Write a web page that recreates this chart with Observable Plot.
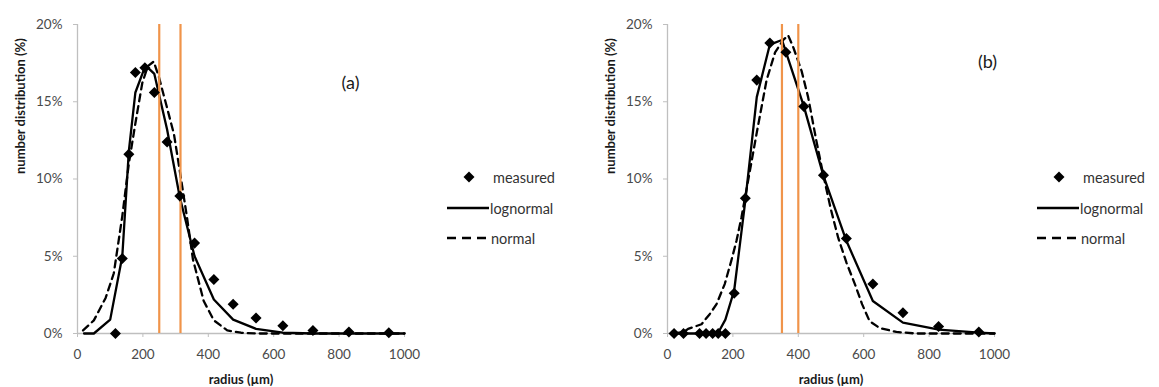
<!DOCTYPE html>
<html>
<head>
<meta charset="utf-8">
<script src="https://cdn.jsdelivr.net/npm/d3@7"></script>
<script src="https://cdn.jsdelivr.net/npm/@observablehq/plot@0.6"></script>
<style>
  html, body { margin: 0; padding: 0; background: #fff; }
  #chart { position: relative; width: 1159px; height: 387px; background: #fff; font-family: Lato, "Open Sans", sans-serif; }
  .panel { position: absolute; top: 0; width: 580px; height: 387px; }
  .panel svg.plot { position: absolute; left: 0; top: 0; }
  .legend { position: absolute; left: 440px; top: 160px; width: 140px; height: 100px; }
  .legend .item { position: absolute; left: 0; height: 20px; display: flex; align-items: center; font-size: 14.5px; color: #333; }
  .legend svg { display: block; }
</style>
</head>
<body>
<div id="chart"></div>
<script>
// ---- shared axis definitions ----
const xTicks = [0, 200, 400, 600, 800, 1000];
const yTicks = [0, 5, 10, 15, 20];
const xLabel = "radius (µm)";
const yLabel = "number distribution (%)";
const seriesNames = ["measured", "lognormal", "normal"];

// ---- panel (a) ----
const measuredA_r = [116, 137, 157, 177, 206, 235, 274, 313, 358, 417, 476, 546, 628, 720, 830, 952];
const measuredA_v = [0, 4.85, 11.6, 16.9, 17.2, 15.6, 12.4, 8.9, 5.85, 3.5, 1.9, 1.0, 0.5, 0.2, 0.1, 0.05];
const lognormalA_r = [20, 50, 100, 137, 157, 177, 208, 235, 274, 313, 358, 417, 476, 546, 628, 720, 830, 952, 1000];
const lognormalA_v = [0, 0, 0.9, 5.0, 11.8, 15.6, 17.35, 16.8, 13.2, 8.8, 5.0, 2.2, 0.9, 0.3, 0.05, 0, 0, 0, 0];
const normalA_r = [17, 50, 86, 111, 137, 157, 177, 198, 215, 233, 249, 274, 295, 313, 335, 353, 386, 417, 458, 500, 546, 628, 720, 830, 952, 1000];
const normalA_v = [0.2, 0.85, 2.3, 3.9, 7.6, 11.0, 13.6, 16.2, 17.3, 17.6, 16.6, 14.6, 12.9, 10.5, 7.5, 4.8, 2.1, 0.85, 0.2, 0.05, 0, 0, 0, 0, 0, 0];
const markersA = [250, 315];
const tagA = "(a)";

// ---- panel (b) ----
const measuredB_r = [20, 49, 98, 118, 138, 155, 177, 204, 238, 273, 313, 362, 417, 477, 547, 628, 720, 829, 952];
const measuredB_v = [0, 0, 0, 0, 0, 0, 0, 2.6, 8.75, 16.4, 18.8, 18.2, 14.7, 10.25, 6.15, 3.2, 1.35, 0.45, 0.1];
const lognormalB_r = [20, 50, 100, 120, 138, 155, 177, 204, 238, 273, 313, 350, 417, 477, 547, 628, 720, 830, 952, 1000];
const lognormalB_v = [0, 0, 0, 0, 0, 0.05, 0.9, 2.8, 8.6, 15.3, 18.7, 19.0, 14.7, 10.2, 6.0, 2.1, 0.7, 0.25, 0.05, 0];
const normalB_r = [20, 50, 63, 104, 129, 150, 175, 195, 211, 226, 250, 273, 303, 329, 354, 369, 385, 410, 430, 455, 476, 500, 522, 547, 573, 595, 618, 649, 700, 760, 830, 952, 1000];
const normalB_v = [0, 0.1, 0.3, 0.6, 1.25, 1.9, 3.2, 4.7, 6.0, 7.5, 10.3, 13.0, 16.4, 18.2, 19.0, 19.3, 18.5, 17.0, 15.3, 12.5, 10.3, 8.0, 6.2, 4.6, 3.2, 1.9, 0.8, 0.35, 0.1, 0, 0, 0, 0];
const markersB = [350, 400];
const tagB = "(b)";

const zip = (rs, vs) => rs.map((r, i) => ({r, v: vs[i]}));

const diamond = {
  draw(ctx, size) {
    const h = Math.sqrt(size / 2);
    ctx.moveTo(0, -h); ctx.lineTo(h, 0); ctx.lineTo(0, h); ctx.lineTo(-h, 0); ctx.closePath();
  }
};

function makePanel(measured, lognormal, normal, markers, tag, tagDx, tagDy) {
  return Plot.plot({
    width: 420,
    height: 387,
    marginLeft: 77,
    marginRight: 16,
    marginTop: 24,
    marginBottom: 54,
    x: {domain: [0, 1000]},
    y: {domain: [0, 20]},
    style: {fontFamily: "Lato, 'Open Sans', sans-serif", background: "transparent", overflow: "visible"},
    marks: [
      Plot.ruleY([0], {stroke: "#bfbfbf", strokeWidth: 1.3}),
      Plot.ruleX([0], {stroke: "#bfbfbf", strokeWidth: 1.3}),
      Plot.axisX({ticks: xTicks, tickFormat: d => String(d), tickSize: 4, tickPadding: 12, stroke: "#bfbfbf", fill: "#4a4a4a", fontSize: 13.5, label: null}),
      Plot.axisY({ticks: yTicks, tickFormat: d => d + "%", tickSize: 4, tickPadding: 11, stroke: "#bfbfbf", fill: "#4a4a4a", fontSize: 13.5, label: null}),
      Plot.text([yLabel], {text: d => d, frameAnchor: "left", dx: -57, dy: -5, rotate: -90, fontWeight: "bold", fontSize: 13, fill: "#1a1a1a"}),
      Plot.text([xLabel], {text: d => d, frameAnchor: "bottom", lineAnchor: "middle", dy: 46, fontWeight: "bold", fontSize: 13, fill: "#1a1a1a"}),
      Plot.text([tag], {text: d => d, frameAnchor: "top-right", textAnchor: "middle", lineAnchor: "middle", dx: tagDx, dy: tagDy, fontSize: 18, fill: "#1a1a1a"}),
      Plot.line(normal, {x: "r", y: "v", stroke: "#000", strokeWidth: 2.3, strokeDasharray: "7,5"}),
      Plot.line(lognormal, {x: "r", y: "v", stroke: "#000", strokeWidth: 2.3}),
      Plot.ruleX(markers, {y1: 0, y2: 20, stroke: "#f0944a", strokeWidth: 2.2}),
      Plot.dot(measured, {x: "r", y: "v", symbol: diamond, r: 4.4, fill: "#000", stroke: "none"})
    ]
  });
}

function makeLegend() {
  const lg = document.createElement("div");
  lg.className = "legend";
  const items = [
    {name: seriesNames[0], top: 7, sw: `<svg width="50" height="20"><path d="M29,4.5 L34.5,10 L29,15.5 L23.5,10 Z" fill="#000"/></svg>`, pad: 3},
    {name: seriesNames[1], top: 38, sw: `<svg width="50" height="20"><line x1="7" y1="10" x2="49" y2="10" stroke="#000" stroke-width="2.3"/></svg>`, pad: 0},
    {name: seriesNames[2], top: 68, sw: `<svg width="50" height="20"><line x1="7" y1="10" x2="49" y2="10" stroke="#000" stroke-width="2.3" stroke-dasharray="9,6"/></svg>`, pad: 1}
  ];
  for (const it of items) {
    const d = document.createElement("div");
    d.className = "item";
    d.style.top = it.top + "px";
    d.innerHTML = it.sw + `<span style="margin-left:${it.pad}px">${it.name}</span>`;
    lg.appendChild(d);
  }
  return lg;
}

const chart = document.getElementById("chart");
const panels = [
  {left: 0, plot: makePanel(zip(measuredA_r, measuredA_v), zip(lognormalA_r, lognormalA_v), zip(normalA_r, normalA_v), markersA, tagA, -54, 59)},
  {left: 590, plot: makePanel(zip(measuredB_r, measuredB_v), zip(lognormalB_r, lognormalB_v), zip(normalB_r, normalB_v), markersB, tagB, -7, 38)}
];
for (const p of panels) {
  const div = document.createElement("div");
  div.className = "panel";
  div.style.left = p.left + "px";
  p.plot.classList.add("plot");
  div.appendChild(p.plot);
  div.appendChild(makeLegend());
  chart.appendChild(div);
}
</script>
</body>
</html>
